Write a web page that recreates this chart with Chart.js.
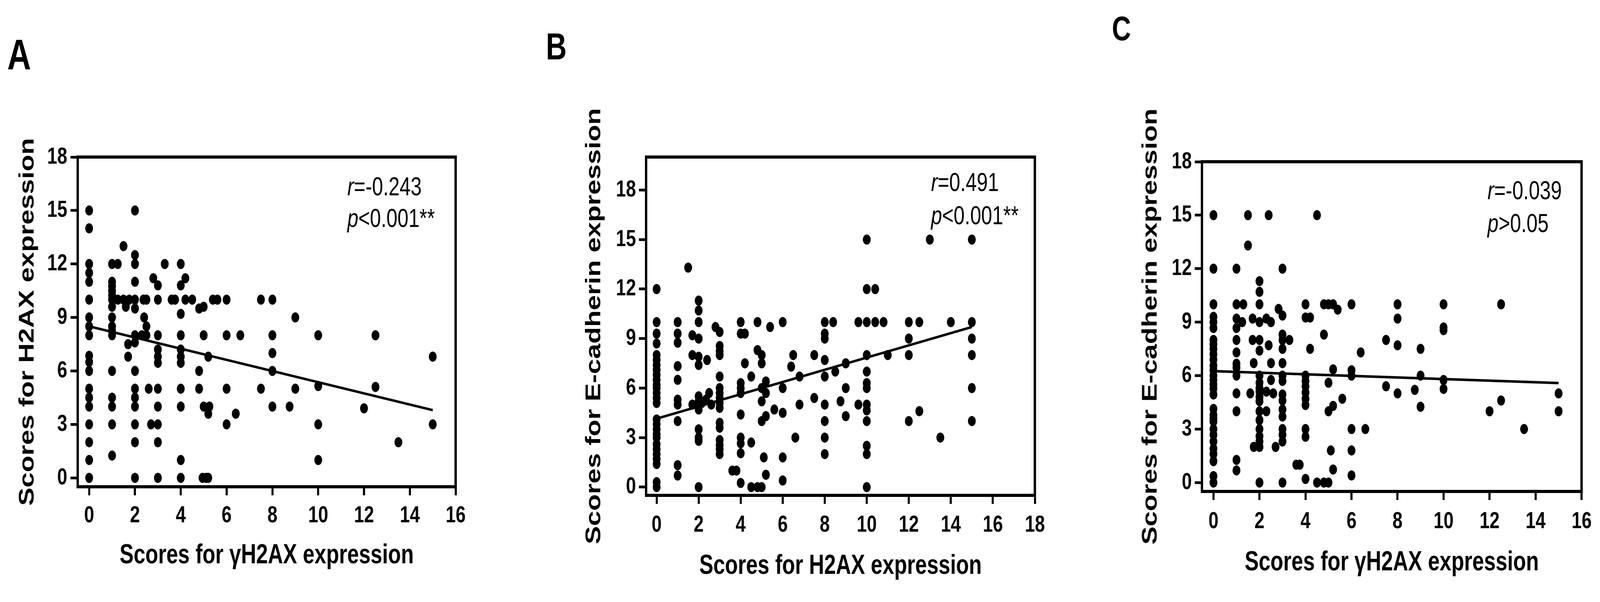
<!DOCTYPE html>
<html><head><meta charset="utf-8">
<script src="https://cdn.jsdelivr.net/npm/chart.js@4.4.1/dist/chart.umd.min.js"></script>
<style>
html,body{margin:0;padding:0;background:#fff;overflow:hidden;}
#wrap{position:absolute;left:0;top:0;width:5334px;height:1541px;background:#fff;overflow:hidden;font-family:'Liberation Sans',Arial,Helvetica,sans-serif;color:#000;transform-origin:0 0;}
canvas{position:absolute;}
.lbl{position:absolute;font-weight:bold;line-height:1;white-space:nowrap;}
.ann{position:absolute;font-size:66px;line-height:1;white-space:nowrap;}
</style></head><body>
<div id="wrap">
  <div class="lbl" style="left:24px;top:84px;font-size:110px">A</div>
  <div class="lbl" style="left:1820px;top:71px;font-size:96px">B</div>
  <div class="lbl" style="left:3707px;top:29px;font-size:88px">C</div>
  <canvas id="cA"></canvas>
  <canvas id="cB"></canvas>
  <canvas id="cC"></canvas>
  <div class="ann" style="left:1158px;top:444px"><i>r</i>=-0.243</div>
  <div class="ann" style="left:1158px;top:525px"><i>p</i>&lt;0.001**</div>
  <div class="ann" style="left:3104px;top:433px"><i>r</i>=0.491</div>
  <div class="ann" style="left:3104px;top:518px"><i>p</i>&lt;0.001**</div>
  <div class="ann" style="left:4959px;top:454px"><i>r</i>=-0.039</div>
  <div class="ann" style="left:4959px;top:538px"><i>p</i>&gt;0.05</div>
</div>
<script>
// ---------- Panel A: γH2AX (x) vs H2AX (y) ----------
const aX = [
  0,0,0,0,0,0,0,0,0,0,0,0,0,0,0,0,0,0,0,
  1,1,1,1,1,1,1,1,1,1,1,1,1,1,1,1,
  1.25,1.5,1.25,1.5,1.75,1.6,1.7,1.7,
  2,2,2,2,2,2,2,2,2,2,2,2,2,2,2,
  2.37,2.5,2.4,2.5,2.3,2.5,2.6,2.7,2.8,3.3,
  3,3,3,3,3,3,3,3,3,3,3,
  3.6,3.75,
  4,4,4,4,4,4,4,4,4,4,4,
  4.2,4.2,4.5,4.8,5,4.8,4.8,5,5,5.25,5.2,5.2,4.95,5.1,5.2,5.4,5.6,
  6,6,6,6,6.4,6.6,7.5,7.5,8,8,8,8,8,8.75,9,9,
  10,10,10,10,12,12.5,12.5,13.5,15,15
];
const aY = [
  15,14,12,11.5,11,10,9,8.5,8,6.85,6.5,6,5,4.5,4,3,2,1,0,
  12,11,10.75,10.5,10.25,10,9.6,9,8.5,8.25,8,6,4.5,4,3,1.25,
  12,13,10,10,10,9.6,7.5,6.8,
  15,12.5,12,11,10,9.5,8,7.6,6,5,4.5,4,3,2,0,
  10,10,9,8.5,8,8,5,3,11.2,12,
  10.8,10,8,7.2,6.8,6.45,5,4,3,2,0,
  10,10,
  12,10.8,9.2,8,7.2,6.8,6.45,5,4,1,0,
  11.2,10,10,9.5,9.6,6,5,8,4,4,3.6,6.8,0,0,0,10,10,
  10,8,5,3,3.6,8,10,5,10,8,7,6,4,4,9,5,
  8,5.15,3,1,3.9,8,5.1,2,6.8,3
];
const aFitX = [0, 15];
const aFitY = [8.5, 3.8];
const aXTicks = [0,2,4,6,8,10,12,14,16];
const aYTicks = [0,3,6,9,12,15,18];

// ---------- Panel B: H2AX (x) vs E-cadherin (y) ----------
const bX = [
  0,0,0,0,0,0,0,0,0,0,0,0,0,0,0,0,0,0,0,0,0,0,0,0,0,0,0,
  1,1,1,1,1,1,1,1,1,1,
  1.5,1.7,1.7,1.7,
  2,2,2,2,2,2,2,2,2,2,2,2,2,
  2.15,2.35,2.5,2.6,2.4,2.8,
  3,3,3,3,3,3,3,3,3,3,3,3,3,3,3,3,
  3.6,3.8,
  4,4,4,4,4,4,4,4,4,4,
  4.2,4.2,4.5,4.5,4.5,4.8,5,4.8,4.8,5,5,5.2,5,5.2,5,5,5.2,5.1,5.2,5.4,5.6,
  6,6,6,6,6,6.4,6.5,6.6,6.8,6.8,7.5,7.5,
  8,8,8,8,8,8,8,8,8,
  8.4,8.5,8.75,9,9,9,9.6,9.6,
  10,10,10,10,10,10,10,10,10,10,10,10,10,
  10.4,10.4,10.8,11,
  12,12,12,12,12.5,12.5,13,13.5,14,
  15,15,15,15,15,15
];
const bY = [
  12,10,9.3,8.7,8,7.7,7.4,7.1,6.8,6.5,6.2,6,5.7,5.4,5.1,4.1,3.8,3.5,3.2,3,2.6,2.3,2,1.7,1.4,0.3,0,
  10,9.3,8.75,7.33,6.5,5.3,5,4,1.33,0.7,
  13.3,9.2,8,5,
  11.3,10.7,10,9,7.9,7.4,5.5,5.2,4.7,3.5,3,2.8,0,
  5.1,5.3,5.7,5,7.7,9.7,
  9.4,8.55,8.25,8,6.7,6,5.7,5.4,5.1,4.8,3.9,3.6,2.85,2.55,2.3,2,
  1,1,
  10,9.3,6.3,6,5.7,4.4,3,2.65,2.05,0.25,
  9.3,7.5,6.7,2.7,0,0,0,10,8.3,8,7.5,6.4,6,5.7,5.2,4,4.3,1.8,0.75,9.7,4.7,
  10,6,4.5,1.8,0.4,7.3,8,3,6.7,5,8,5.4,
  10,9.3,9,7.7,6.7,5,4,3,2,
  10,7,5.2,7.5,6,4.3,10,5,
  15,12,10,8,7,6.3,6,5,4.65,4,2.5,2,0,
  12,10,10,8,
  10,9,8,4,10,4.6,15,3,10,
  15,10,9,8,6,4
];
const bFitX = [0, 15];
const bFitY = [4.15, 9.7];
const bXTicks = [0,2,4,6,8,10,12,14,16,18];
const bYTicks = [0,3,6,9,12,15,18];

// ---------- Panel C: γH2AX (x) vs E-cadherin (y) ----------
const cX = [
  0,0,0,0,0,0,0,0,0,0,0,0,0,0,0,0,0,0,0,0,0,0,0,0,0,0,0,0,0,0,
  1,1,1,1,1,1,1,1,1,1,1,1,1,
  1.3,1.25,1.5,1.5,1.7,1.7,1.75,1.6,1.75,
  2,2,2,2,2,2,2,2,2,2,2,2,2,2,2,2,2,2,2,
  2.3,2.5,2.4,2.5,2.3,2.3,2.5,2.6,2.7,2.4,3,2.83,3,
  3,3,3,3,3,3,3,3,3,3,3,3,3,3,
  3.3,3.6,3.75,
  4,4,4,4,4,4,4,4,4,4,4,
  4.2,4.2,4.5,4.5,4.8,5,4.8,5,5.2,5.4,4.8,5.2,5,5,5.2,5.1,5.2,5.6,
  6,6,6,6,6,6,6.4,6.6,7.5,7.5,
  8,8,8,8,8.75,9,9,9,
  10,10,10,10,10,12,12.5,12.5,13.5,15,15
];
const cY = [
  15,12,10,9.3,9,8.67,8,7.75,7.5,7.2,6.9,6.56,6.3,6,5.75,5.5,5.27,4.94,4.13,3.8,3.6,3.43,3,2.68,2.3,1.9,1.6,1.2,0.36,0,
  12,10,9.2,8.67,8,7.3,6.67,6.45,6,5,4,1.27,0.68,
  10,9,15,13.3,9.2,8,6.7,5,2,
  11.3,10.7,10,9,8,7.4,6,5.6,5.3,5.1,4.8,4.56,4,3.5,3,2.6,2.3,2,0,
  9.2,9,7.7,6.7,5.1,4,5.75,5,2,15,12,9.74,9.37,
  8.3,8,7.5,6.7,6,5.7,4.94,4.6,4.1,3.7,3,2.68,2.3,0,
  8,1,1,
  10,9.26,6,5.7,5.4,5.05,4.7,4.35,3,2.57,0.2,
  9.26,7.5,15,0,0,0,10,10,10,9.7,8.3,6.35,5.6,4,4.3,1.8,0.73,4.7,
  10,6.3,6,3,1.8,0.4,7.3,3,8,5.4,
  10,9.2,7.7,5,5.2,7.5,6,4.25,
  10,8.7,8.55,5.75,5.25,4,10,4.6,3,5,4
];
const cFitX = [0, 15];
const cFitY = [6.25, 5.58];
const cXTicks = [0,2,4,6,8,10,12,14,16];
const cYTicks = [0,3,6,9,12,15,18];

const xTitleA = 'Scores for γH2AX expression';
const yTitleA = 'Scores for H2AX expression';
const xTitleB = 'Scores for H2AX expression';
const yTitleB = 'Scores for E-cadherin expression';
const xTitleC = 'Scores for γH2AX expression';
const yTitleC = 'Scores for E-cadherin expression';

// ---------- layout (pixels, in 5334x1541 design space) ----------
// chart areas: A 259..1519 x 402..1246, B 2154..3450 x 402..1268, C 4007..5275 x 414..1258
const FONT = "'Liberation Sans', Arial, Helvetica, sans-serif";
const layoutA = {x:51,   y:200, w:1519-51+70,   h:1465-200, pt:202, pr:70, xh:1465-1246, yw:259-51,   xpad:16, ypad:11};
const layoutB = {x:1940, y:200, w:3450-1940+70, h:1492-200, pt:202, pr:70, xh:1492-1268, yw:2154-1940, xpad:18, ypad:10};
const layoutC = {x:3795, y:200, w:5275-3795+50, h:1483-200, pt:214, pr:50, xh:1483-1258, yw:4007-3795, xpad:19, ypad:10};

// fit the 5334x1541 design to the actual viewport
const W = 5334, H = 1541;
const vw = window.innerWidth || W, vh = window.innerHeight || H;
const SX = vw / W, SY = vh / H;
document.getElementById('wrap').style.transform = 'scale(' + SX + ',' + SY + ')';
const RATIO = (window.devicePixelRatio || 1) * Math.max(SX, SY);

const framePlugin = {
  id:'frame',
  afterDraw(chart){
    const {ctx, chartArea:a} = chart;
    ctx.save();
    ctx.strokeStyle = '#000';
    ctx.lineWidth = 8;
    ctx.strokeRect(a.left, a.top, a.right - a.left, a.bottom - a.top);
    ctx.restore();
  }
};

function makeChart(id, X, Y, fitX, fitY, xTicks, yTicks, xMax, yMax, xTitle, yTitle, L){
  const cv = document.getElementById(id);
  cv.width = L.w; cv.height = L.h;
  cv.style.left = L.x + 'px'; cv.style.top = L.y + 'px';
  cv.style.width = L.w + 'px'; cv.style.height = L.h + 'px';
  const pts = X.map((x,i)=>({x:x, y:Y[i]}));
  const fit = fitX.map((x,i)=>({x:x, y:fitY[i]}));
  const tickFont = {family:FONT, size:60, weight:'bold'};
  const titleFont = {family:FONT, size:70, weight:'bold'};
  return new Chart(cv, {
    type:'scatter',
    data:{datasets:[
      {data:fit, showLine:true, borderColor:'#000', borderWidth:6.5, pointRadius:0, pointHoverRadius:0, fill:false, order:0},
      {data:pts, backgroundColor:'#000', borderColor:'#000', borderWidth:0, pointRadius:13, pointHoverRadius:13, order:1}
    ]},
    options:{
      responsive:false, maintainAspectRatio:false, animation:false, devicePixelRatio:RATIO,
      events:[],
      layout:{padding:{left:0, top:L.pt, right:L.pr, bottom:0}},
      plugins:{legend:{display:false}, tooltip:{enabled:false}},
      scales:{
        x:{
          type:'linear', position:'bottom', min:-0.5, max:xMax,
          afterBuildTicks:s=>{ s.ticks = xTicks.map(v=>({value:v})); },
          afterFit:s=>{ s.height = L.xh; },
          grid:{display:true, drawOnChartArea:false, drawTicks:true, tickLength:22, tickWidth:7, tickColor:'#000'},
          border:{display:true, color:'#000', width:8},
          ticks:{color:'#000', padding:L.xpad, font:tickFont, maxRotation:0, autoSkip:false, callback:v=>String(v)},
          title:{display:true, text:xTitle, color:'#000', padding:0, font:titleFont}
        },
        y:{
          type:'linear', position:'left', min:-0.5, max:yMax,
          afterBuildTicks:s=>{ s.ticks = yTicks.map(v=>({value:v})); },
          afterFit:s=>{ s.width = L.yw; },
          grid:{display:true, drawOnChartArea:false, drawTicks:true, tickLength:24, tickWidth:7, tickColor:'#000'},
          border:{display:true, color:'#000', width:8},
          ticks:{color:'#000', padding:L.ypad, font:tickFont, autoSkip:false, callback:v=>String(v)},
          title:{display:true, text:yTitle, color:'#000', padding:0, font:titleFont}
        }
      }
    },
    plugins:[framePlugin]
  });
}

makeChart('cA', aX, aY, aFitX, aFitY, aXTicks, aYTicks, 16, 18, xTitleA, yTitleA, layoutA);
makeChart('cB', bX, bY, bFitX, bFitY, bXTicks, bYTicks, 18, 20, xTitleB, yTitleB, layoutB);
makeChart('cC', cX, cY, cFitX, cFitY, cXTicks, cYTicks, 16, 18, xTitleC, yTitleC, layoutC);
</script>
</body></html>
